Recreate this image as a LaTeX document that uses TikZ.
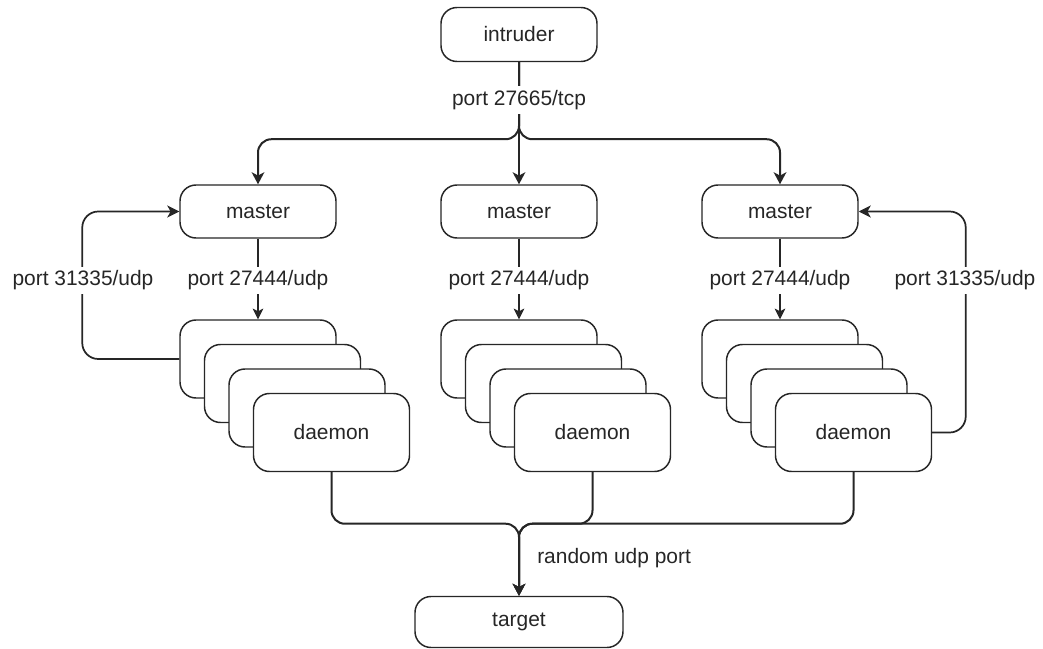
\documentclass[tikz,border=0pt]{standalone}
\usepackage{fontspec}
\setmainfont{Liberation Sans}
\usetikzlibrary{arrows.meta}
\newcommand\diagfont{\fontsize{15.7pt}{18pt}\selectfont}
\definecolor{ink}{HTML}{262626}

\begin{document}
\begin{tikzpicture}[x=0.75pt,y=-0.75pt,
  box/.style={draw=ink, line width=1.1pt, rounded corners=12pt, fill=white,
    inner sep=0pt, minimum width=117pt, text=ink, font=\diagfont},
  topbox/.style={box, minimum height=40.5pt},
  masterbox/.style={box, minimum height=39.75pt},
  daemonbox/.style={box, minimum height=58.5pt},
  targetbox/.style={box, minimum width=156pt, minimum height=38.25pt},
  heavy/.style={draw=ink, line width=1.5pt, rounded corners=10pt,
    -{Stealth[length=9pt, width=9.5pt, inset=2.5pt]}},
  thin/.style={draw=ink, line width=0.8pt,
    -{Stealth[length=8pt, width=8pt, inset=2pt]}},
  loop/.style={draw=ink, line width=1.3pt, rounded corners=12pt,
    -{Stealth[length=9pt, width=9pt, inset=2.5pt]}},
  lab/.style={fill=white, inner sep=3pt, text=ink, font=\diagfont},
]
\useasboundingbox (0,0) rectangle (1043,649);

% sources and sinks
\node[topbox] (intruder) at (519,34.5) {intruder};
\node[targetbox] (target) at (519,622) {target};

% masters
\node[masterbox] (m1) at (258,211.5) {master};
\node[masterbox] (m2) at (519,211.5) {master};
\node[masterbox] (m3) at (780,211.5) {master};

% daemon stacks, drawn back to front
\foreach \s/\L in {1/180, 2/441, 3/702} {
  \foreach \k in {1,2,3} {
    \node[daemonbox] (d\s\k) at ({\L+78+24.5*(\k-1)},{359+24.5*(\k-1)}) {};
  }
  \node[daemonbox] (d\s4) at ({\L+78+73.5},{359+73.5}) {daemon};
}

% intruder to masters
\draw[heavy] (intruder.south) -- ++(0,77) -| (m1.north);
\draw[heavy] (intruder.south) -- ++(0,77) -| (m3.north);
\draw[heavy] (intruder.south) -- (m2.north);

% masters to daemons
\draw[thin] (m1.south) -- (d11.north);
\draw[thin] (m2.south) -- (d21.north);
\draw[thin] (m3.south) -- (d31.north);

% daemons reporting back
\draw[loop] (d11.west) -- ++(-97,0) |- (m1.west);
\draw[loop] (d34.east) -- ++(33.5,0) |- (m3.east);

% daemons to target
\draw[heavy] (d14.south) -- ++(0,51.5) -| (target.north);
\draw[heavy] (d34.south) -- ++(0,51.5) -| (target.north);
\draw[heavy] (d24.south) -- ++(0,51.5) -| (target.north);

% port labels
\node[lab] (ltcp) at (519,100) {port 27665/tcp};
\node[lab] (lu1) at (258,280.5) {port 27444/udp};
\node[lab] (lu2) at (519,280.5) {port 27444/udp};
\node[lab] (lu3) at (780,280.5) {port 27444/udp};
\node[lab] (lr1) at (83,280.5) {port 31335/udp};
\node[lab] (lr3) at (965,280.5) {port 31335/udp};
\node[lab, anchor=west, fill=none] (lrand) at (533,558) {random udp port};
\end{tikzpicture}
\end{document}
